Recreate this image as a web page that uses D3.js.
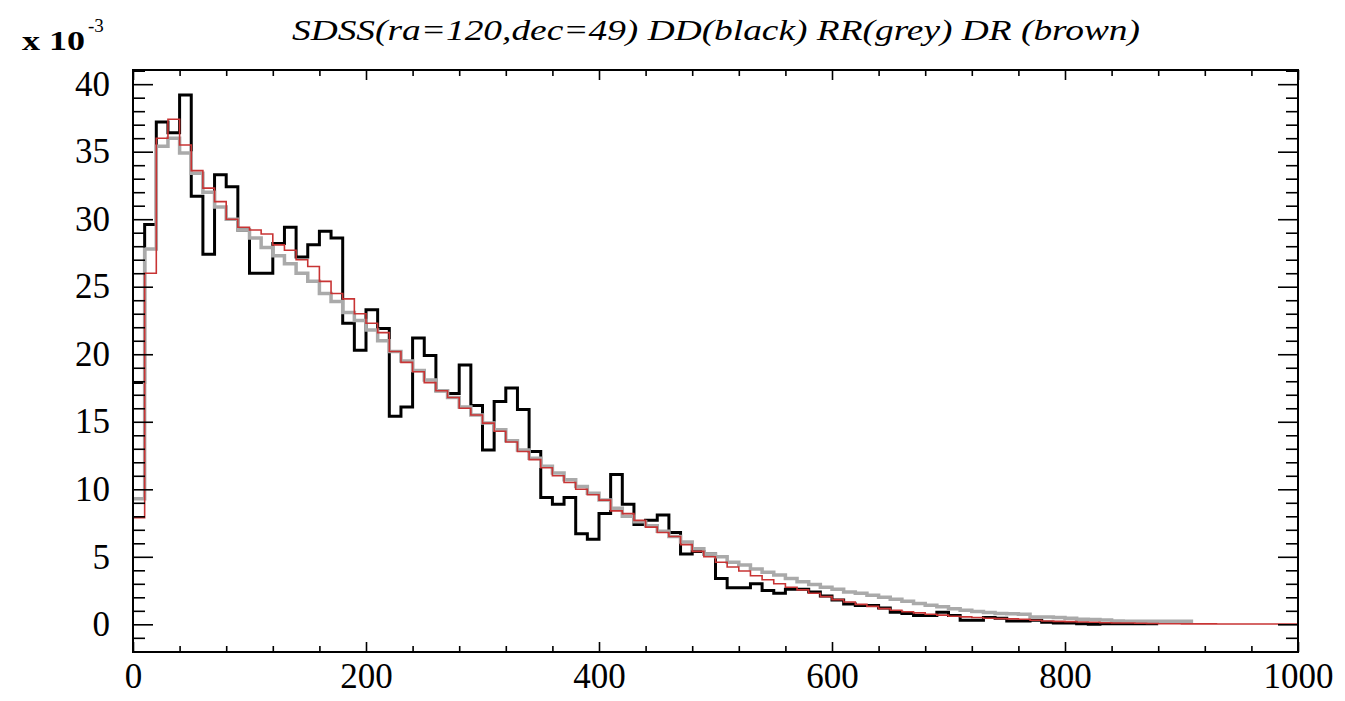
<!DOCTYPE html>
<html>
<head>
<meta charset="utf-8">
<script src="https://cdn.jsdelivr.net/npm/d3@7"></script>
<style>
  body { margin: 0; background: #fff; }
  svg text { font-family: "Liberation Serif", "Times New Roman", serif; }
</style>
</head>
<body>
<div id="chart"></div>
<script>
// histogram bins: 10 units wide, starting at 0
var binWidth = 10

// DD (black), values x 10^-3
var ddValues = [17.9, 29.6, 37.2, 36.4, 39.2, 31.7, 27.4, 33.3, 32.4, 29.2,
  26.0, 26.0, 28.2, 29.4, 27.2, 28.1, 29.1, 28.6, 22.3, 20.3,
  23.3, 21.9, 15.4, 16.1, 21.2, 19.9, 17.3, 17.1, 19.2, 16.2,
  12.9, 16.5, 17.5, 15.9, 12.8, 9.4, 8.9, 9.4, 6.7, 6.3,
  8.2, 11.1, 8.9, 7.4, 7.7, 8.1, 6.8, 5.2, 5.4, 5.2,
  3.4, 2.7, 2.7, 3.0, 2.5, 2.3, 2.6, 2.6, 2.4, 2.1,
  1.8, 1.5, 1.4, 1.4, 1.2, 0.9, 0.8, 0.65, 0.65, 0.9,
  0.65, 0.3, 0.3, 0.5, 0.45, 0.25, 0.25, 0.3, 0.15, 0.1,
  0.1, 0.05, 0.0, 0.05, 0.05, 0.05, 0.05, 0.05]

// RR (grey)
var rrValues = [9.3, 27.8, 35.4, 36.0, 34.9, 33.4, 32.0, 30.9, 30.0, 29.2,
  28.6, 27.9, 27.3, 26.7, 26.0, 25.4, 24.5, 23.9, 23.1, 22.5,
  21.8, 21.0, 20.2, 19.5, 18.8, 18.1, 17.3, 16.8, 16.1, 15.5,
  14.9, 14.4, 13.6, 12.9, 12.3, 11.7, 11.2, 10.7, 10.2, 9.7,
  9.2, 8.6, 8.0, 7.6, 7.3, 6.9, 6.5, 6.1, 5.6, 5.2,
  5.0, 4.6, 4.4, 4.1, 3.85, 3.65, 3.4, 3.15, 2.95, 2.75,
  2.6, 2.4, 2.3, 2.15, 2.0, 1.85, 1.7, 1.55, 1.42, 1.3,
  1.15, 1.05, 0.95, 0.88, 0.8, 0.78, 0.75, 0.55, 0.55, 0.5,
  0.45, 0.38, 0.35, 0.32, 0.25, 0.23, 0.22, 0.22, 0.22, 0.22,
  0.22]

// DR (brown)
var drValues = [7.9, 26.0, 36.0, 37.4, 35.5, 33.6, 32.3, 31.3, 30.0, 29.4,
  29.2, 28.9, 28.1, 27.7, 27.0, 26.5, 25.4, 24.5, 24.1, 23.0,
  22.3, 21.6, 20.2, 19.4, 18.7, 17.9, 17.3, 16.8, 16.0, 15.5,
  14.9, 14.3, 13.5, 12.8, 12.2, 11.6, 11.0, 10.5, 10.0, 9.6,
  9.2, 8.4, 8.2, 7.7, 7.2, 6.8, 6.5, 5.9, 5.4, 5.0,
  4.6, 4.25, 3.95, 3.6, 3.3, 3.0, 2.75, 2.55, 2.3, 2.05,
  1.83, 1.65, 1.48, 1.33, 1.16, 1.04, 0.93, 0.85, 0.75, 0.68,
  0.6, 0.55, 0.5, 0.45, 0.42, 0.4, 0.38, 0.3, 0.25, 0.22,
  0.2, 0.17, 0.15, 0.12, 0.1, 0.1, 0.08, 0.06, 0.04, 0.04,
  0.03, 0.03, 0.03, 0.02, 0.02, 0.02, 0.02, 0.02, 0.02, 0.02]

var xMajor = [0, 200, 400, 600, 800, 1000]
var yMajor = [0, 5, 10, 15, 20, 25, 30, 35, 40]

// set the dimensions of the graph
var width = 1345
var height = 701
var plotLeft = 133, plotRight = 1298, plotTop = 70, plotBottom = 652

var svg = d3.select("#chart")
  .append("svg")
    .attr("width", width)
    .attr("height", height)

var x = d3.scaleLinear().domain([0, 1000]).range([plotLeft, plotRight])
var y = d3.scaleLinear().domain([-2.05, 41.05]).range([plotBottom, plotTop])

// minor ticks: 5 per major interval
var xMinor = d3.range(0, 1001, 40).filter(function(d){ return d % 200 != 0 })
var yMinor = d3.range(-2, 42, 1).filter(function(d){ return d % 5 != 0 })

// step line from bins (IDL psym=10 look)
function stepPoints(vals) {
  var pts = vals.map(function(v, i){ return [i * binWidth, v] })
  pts.push([vals.length * binWidth, vals[vals.length - 1]])
  return pts
}
var line = d3.line()
  .x(function(d){ return x(d[0]) })
  .y(function(d){ return y(d[1]) })
  .curve(d3.curveStepAfter)

var plot = svg.append("g")
plot.append("path").datum(stepPoints(ddValues))
  .attr("d", line).attr("fill", "none").attr("stroke", "#000").attr("stroke-width", 3)
plot.append("path").datum(stepPoints(rrValues))
  .attr("d", line).attr("fill", "none").attr("stroke", "#aaa").attr("stroke-width", 3.5)
plot.append("path").datum(stepPoints(drValues))
  .attr("d", line).attr("fill", "none").attr("stroke", "#c83434").attr("stroke-width", 1.6)

// axes, ticks pointing inwards
function styleAxis(g) {
  g.select(".domain").remove()
  g.selectAll(".tick line").attr("stroke", "#000").attr("stroke-width", 1.6)
  g.selectAll("text").attr("fill", "#000").attr("font-size", 35)
}
svg.append("g").attr("transform", "translate(0," + plotBottom + ")")
  .call(d3.axisBottom(x).tickValues(xMajor).tickSize(-10).tickPadding(11).tickFormat(d3.format("d")))
  .call(styleAxis)
svg.append("g").attr("transform", "translate(0," + plotBottom + ")")
  .call(d3.axisBottom(x).tickValues(xMinor).tickSize(-6).tickFormat(""))
  .call(styleAxis)
svg.append("g").attr("transform", "translate(0," + plotTop + ")")
  .call(d3.axisTop(x).tickValues(xMajor).tickSize(-10).tickFormat(""))
  .call(styleAxis)
svg.append("g").attr("transform", "translate(0," + plotTop + ")")
  .call(d3.axisTop(x).tickValues(xMinor).tickSize(-6).tickFormat(""))
  .call(styleAxis)
svg.append("g").attr("transform", "translate(" + plotLeft + ",0)")
  .call(d3.axisLeft(y).tickValues(yMajor).tickSize(-20).tickPadding(23).tickFormat(d3.format("d")))
  .call(styleAxis)
svg.append("g").attr("transform", "translate(" + plotLeft + ",0)")
  .call(d3.axisLeft(y).tickValues(yMinor).tickSize(-12).tickFormat(""))
  .call(styleAxis)
svg.append("g").attr("transform", "translate(" + plotRight + ",0)")
  .call(d3.axisRight(y).tickValues(yMajor).tickSize(-20).tickFormat(""))
  .call(styleAxis)
svg.append("g").attr("transform", "translate(" + plotRight + ",0)")
  .call(d3.axisRight(y).tickValues(yMinor).tickSize(-12).tickFormat(""))
  .call(styleAxis)

// frame
svg.append("rect")
  .attr("x", plotLeft).attr("y", plotTop)
  .attr("width", plotRight - plotLeft).attr("height", plotBottom - plotTop)
  .attr("fill", "none").attr("stroke", "#000").attr("stroke-width", 2)

// exponent label
svg.append("text").attr("x", 22).attr("y", 50)
  .attr("font-size", 28).attr("font-weight", "bold").attr("fill", "#000")
  .attr("textLength", 63).attr("lengthAdjust", "spacingAndGlyphs")
  .text("x 10")
svg.append("text").attr("x", 88).attr("y", 32)
  .attr("font-size", 19).attr("fill", "#000")
  .text("-3")

// title
svg.append("text")
  .attr("x", 292).attr("y", 40)
  .attr("font-size", 29)
  .attr("font-style", "italic")
  .attr("fill", "#000")
  .attr("textLength", 848).attr("lengthAdjust", "spacingAndGlyphs")
  .text("SDSS(ra=120,dec=49) DD(black) RR(grey) DR (brown)")
</script>
</body>
</html>
